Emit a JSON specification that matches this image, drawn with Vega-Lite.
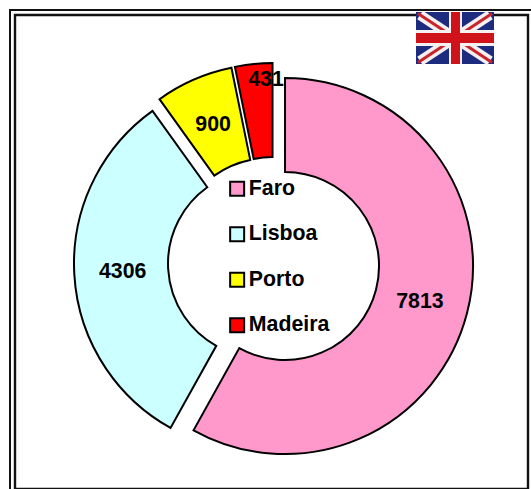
{"$schema":"https://vega.github.io/schema/vega-lite/v6.json","width":531,"height":489,"padding":0,"autosize":"none","background":"white","config":{"view":{"stroke":null},"font":"Liberation Sans"},"datasets":{"sales":[{"region":"Faro","value":7813},{"region":"Lisboa","value":4306},{"region":"Porto","value":900},{"region":"Madeira","value":431}],"one":[{"k":1}]},"resolve":{"scale":{"x":"independent","y":"independent"}},"layer":[{"data":{"name":"one"},"mark":{"type":"rect","fill":null,"stroke":"#111","strokeWidth":2},"encoding":{"x":{"value":10},"x2":{"value":545},"y":{"value":10},"y2":{"value":505}}},{"data":{"name":"one"},"mark":{"type":"rect","fill":null,"stroke":"#111","strokeWidth":2.4},"encoding":{"x":{"value":15},"x2":{"value":528},"y":{"value":15},"y2":{"value":489}}},{"data":{"name":"one"},"mark":{"type":"rect","fill":"#1c2b7d"},"encoding":{"x":{"value":416},"x2":{"value":494},"y":{"value":12},"y2":{"value":64}}},{"data":{"name":"one"},"mark":{"type":"rule","stroke":"#f4f0f0","strokeWidth":10},"encoding":{"x":{"value":420},"x2":{"value":490},"y":{"value":15},"y2":{"value":61}}},{"data":{"name":"one"},"mark":{"type":"rule","stroke":"#f4f0f0","strokeWidth":10},"encoding":{"x":{"value":420},"x2":{"value":490},"y":{"value":61},"y2":{"value":15}}},{"data":{"name":"one"},"mark":{"type":"rule","stroke":"#c8242b","strokeWidth":3},"encoding":{"x":{"value":418},"x2":{"value":492},"y":{"value":13.5},"y2":{"value":62.5}}},{"data":{"name":"one"},"mark":{"type":"rule","stroke":"#c8242b","strokeWidth":3},"encoding":{"x":{"value":418},"x2":{"value":492},"y":{"value":62.5},"y2":{"value":13.5}}},{"data":{"name":"one"},"mark":{"type":"rect","fill":"#f4f0f0"},"encoding":{"x":{"value":449},"x2":{"value":462},"y":{"value":12},"y2":{"value":64}}},{"data":{"name":"one"},"mark":{"type":"rect","fill":"#f4f0f0"},"encoding":{"x":{"value":416},"x2":{"value":494},"y":{"value":30},"y2":{"value":46}}},{"data":{"name":"one"},"mark":{"type":"rect","fill":"#d0121b"},"encoding":{"x":{"value":451},"x2":{"value":460},"y":{"value":12},"y2":{"value":64}}},{"data":{"name":"one"},"mark":{"type":"rect","fill":"#d0121b"},"encoding":{"x":{"value":416},"x2":{"value":494},"y":{"value":33},"y2":{"value":43}}},{"data":{"name":"sales"},"transform":[{"stack":"value","offset":"normalize","sort":[{"field":"value","order":"descending"}],"as":["t0","t1"]},{"calculate":"sin((datum.t0+datum.t1)*PI)","as":"ex"},{"calculate":"-cos((datum.t0+datum.t1)*PI)","as":"ey"}],"mark":{"type":"arc","radius":188,"radius2":94,"stroke":"black","strokeWidth":2},"encoding":{"x":{"field":"ex","type":"quantitative","axis":null,"scale":{"domain":[-1,1],"range":[262,285.4],"nice":false,"zero":false}},"y":{"field":"ey","type":"quantitative","axis":null,"scale":{"domain":[-1,1],"range":[251,275],"nice":false,"zero":false}},"theta":{"field":"t0","type":"quantitative","scale":{"domain":[0,1],"range":[0,6.28318]}},"theta2":{"field":"t1"},"color":{"field":"region","type":"nominal","scale":{"domain":["Faro","Lisboa","Porto","Madeira"],"range":["#FF99CC","#CCFFFF","#FFFF00","#FF0000"]},"legend":{"title":null,"orient":"none","legendX":226.5,"legendY":178,"symbolType":"square","symbolSize":196,"symbolStrokeColor":"black","symbolStrokeWidth":2,"symbolOpacity":1,"labelFontSize":21.3,"labelFont":"Liberation Sans","labelFontWeight":"bold","labelColor":"black","labelOffset":1,"rowPadding":22.5,"padding":0,"labelLimit":200}}}},{"data":{"name":"sales"},"transform":[{"stack":"value","offset":"normalize","sort":[{"field":"value","order":"descending"}],"as":["t0","t1"]},{"calculate":"sin((datum.t0+datum.t1)*PI)*(datum.region==='Madeira'?0.5:1)","as":"lx"},{"calculate":"-cos((datum.t0+datum.t1)*PI)*(datum.region==='Madeira'?1.22:1)","as":"ly"}],"mark":{"type":"text","fontSize":21.3,"fontWeight":"bold","font":"Liberation Sans","color":"black","align":"center","baseline":"middle"},"encoding":{"x":{"field":"lx","type":"quantitative","axis":null,"scale":{"domain":[-1,1],"range":[122.4,424.8],"nice":false,"zero":false}},"y":{"field":"ly","type":"quantitative","axis":null,"scale":{"domain":[-1,1],"range":[112,415],"nice":false,"zero":false}},"text":{"field":"value","type":"quantitative","format":"d"}}}]}
